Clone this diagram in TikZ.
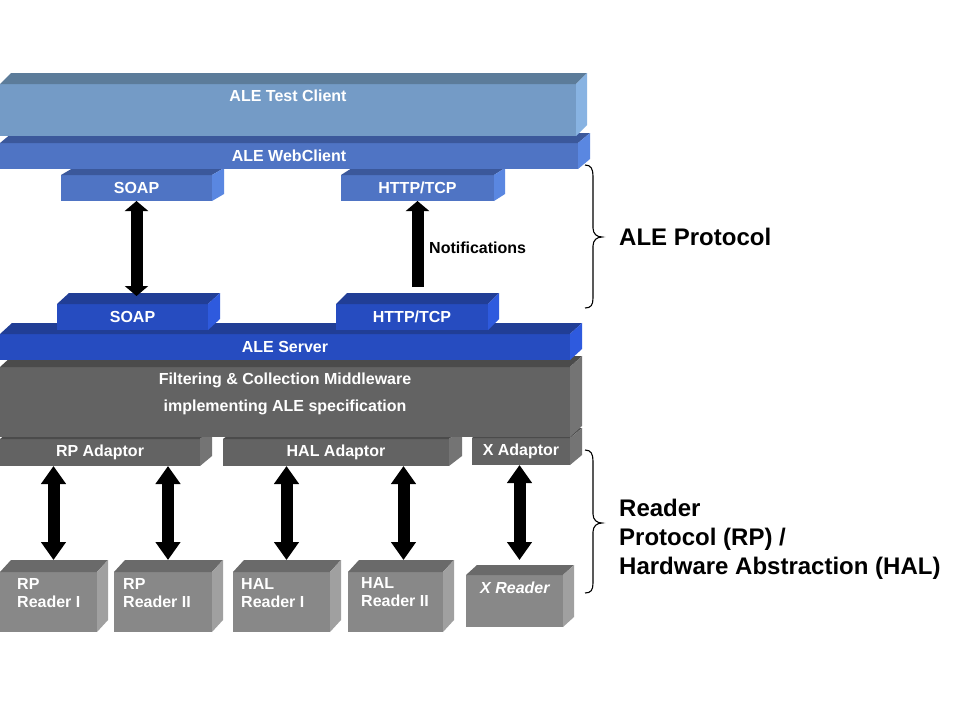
\documentclass[tikz,border=0pt]{standalone}
\usepackage{fontspec}
\setmainfont{Liberation Sans}
\usetikzlibrary{calc,arrows.meta}
\definecolor{tcF}{RGB}{116,155,198}
\definecolor{tcT}{RGB}{92,124,154}
\definecolor{tcS}{RGB}{136,179,226}
\definecolor{wbF}{RGB}{79,116,196}
\definecolor{wbT}{RGB}{59,88,155}
\definecolor{wbS}{RGB}{90,135,225}
\definecolor{svF}{RGB}{38,76,192}
\definecolor{svT}{RGB}{33,62,150}
\definecolor{svS}{RGB}{46,90,222}
\definecolor{gmF}{RGB}{99,99,99}
\definecolor{gmT}{RGB}{75,75,75}
\definecolor{gmS}{RGB}{116,116,116}
\definecolor{rdF}{RGB}{136,136,136}
\definecolor{rdT}{RGB}{106,106,106}
\definecolor{rdS}{RGB}{160,160,160}
\newcommand\lblfont{\fontsize{16}{18}\selectfont\bfseries}
\newcommand\tdbox[9]{%
  \node[face, fill=#1F, minimum width={(#5)-(#3)}, minimum height={(#6)-(#4)}] (#2) at ({((#3)+(#5))/2},{((#4)+(#6))/2}) {#9};
  \fill[#1T] (#2.north west) -- ++(#7,-#8) -- ($(#2.north east)+(#7,-#8)$) -- (#2.north east) -- cycle;
  \fill[#1S] (#2.north east) -- ++(#7,-#8) -- ($(#2.south east)+(#7,-#8)$) -- (#2.south east) -- cycle;
}
\begin{document}
\begin{tikzpicture}[x=1pt,y=-1pt,
  face/.style={inner sep=0pt, outer sep=0pt, text=white, font=\lblfont},
  lbl/.style={inner sep=0pt, text=white, font=\lblfont},
  rdlbl/.style={inner sep=0pt, text=white, font=\lblfont, align=left, anchor=north west},
  dbl/.style={line width=12pt, {Triangle[width=24pt,length=18pt]}-{Triangle[width=24pt,length=18pt]}},
  dblsm/.style={line width=12pt, {Triangle[width=23pt,length=10pt]}-{Triangle[width=23pt,length=10pt]}},
  uparrow/.style={line width=12pt, -{Triangle[width=23pt,length=10pt]}},
  bracepath/.style={line width=1.1pt, black},
  biglbl/.style={inner sep=0pt, font=\fontsize{24}{29}\selectfont\bfseries, align=left}]
\useasboundingbox[fill=white] (0,0) rectangle (960,720);

% readers
\tdbox{rd}{rp1}{0}{572}{97}{632}{11}{12}{}
\tdbox{rd}{rp2}{114}{572}{212}{632}{11}{12}{}
\tdbox{rd}{hal1}{233}{572}{330}{632}{11}{12}{}
\tdbox{rd}{hal2}{348}{572}{443}{632}{11}{12}{}
\tdbox{rd}{xr}{466}{575}{563}{627}{11}{10}{}
\node[rdlbl] (rp1t) at ($(rp1.north west)+(17,6.5)$) {RP\\Reader I};
\node[rdlbl] (rp2t) at ($(rp2.north west)+(9,6.5)$) {RP\\Reader II};
\node[rdlbl] (hal1t) at ($(hal1.north west)+(8,6.5)$) {HAL\\Reader I};
\node[rdlbl] (hal2t) at ($(hal2.north west)+(13,5.5)$) {HAL\\Reader II};
\node[rdlbl] (xrt) at ($(xr.north west)+(14,7)$) {\itshape X Reader};

% adaptors
\tdbox{gm}{rpad}{0}{439}{200}{466}{12}{10}{RP Adaptor}
\tdbox{gm}{halad}{223}{439}{449}{466}{13}{10}{HAL Adaptor}
\tdbox{gm}{xad}{472}{438}{570}{465}{12}{10}{X Adaptor}

% middleware
\tdbox{gm}{mw}{0}{367}{570}{437}{12}{11}{}
\node[lbl, align=center, font=\fontsize{16}{27}\selectfont\bfseries] (mwt) at (285,393.5) {Filtering \& Collection Middleware\\implementing ALE specification};

% server
\tdbox{sv}{srv}{0}{334}{570}{360}{12}{11}{ALE Server}
\tdbox{sv}{soapM}{57}{304}{208}{330}{12}{11}{SOAP}
\tdbox{sv}{httpM}{336}{304}{488}{330}{11}{11}{HTTP/TCP}

% client side
\tdbox{wb}{soapU}{61}{175}{212}{201}{12}{7}{SOAP}
\tdbox{wb}{httpU}{341}{175}{494}{201}{11}{7}{HTTP/TCP}
\tdbox{wb}{web}{0}{143}{578}{169}{12}{10}{ALE WebClient}
\tdbox{tc}{test}{0}{84}{576}{136}{11}{11}{}
\node[lbl] (testt) at (288,96) {ALE Test Client};

% upper arrows
\coordinate (sm) at ($(soapM.north)+(5,-8)$);
\draw[dblsm] (soapU.south) -- (soapU.south |- sm);
\coordinate (ntail) at ($(httpM.north)+(0,-17)$);
\draw[uparrow] (httpU.south |- ntail) -- (httpU.south);
\node[inner sep=0pt, anchor=west, font=\lblfont] (notif) at (429,248) {Notifications};

% lower arrows
\coordinate (a1) at ($(rp1.north)+(5,-12)$);
\coordinate (a2) at ($(rp2.north)+(5,-12)$);
\coordinate (a3) at ($(hal1.north)+(5,-12)$);
\coordinate (a4) at ($(hal2.north)+(8,-12)$);
\coordinate (a5) at ($(xr.north)+(5,-15)$);
\draw[dbl] (rpad.south -| a1) -- (a1);
\draw[dbl] (rpad.south -| a2) -- (a2);
\draw[dbl] (halad.south -| a3) -- (a3);
\draw[dbl] (halad.south -| a4) -- (a4);
\draw[dbl] (xad.south -| a5) -- (a5);

% braces
\coordinate (b1t) at (585,165);
\coordinate (b1m) at (602,237);
\coordinate (b1b) at (585,308);
\draw[bracepath] (b1t) .. controls (591,165) and (593,169) .. (593,176) -- (593,228) .. controls (593,234) and (597,237) .. (b1m) .. controls (597,237) and (593,240) .. (593,246) -- (593,298) .. controls (593,305) and (591,308) .. (b1b);
\coordinate (b2t) at (585,450);
\coordinate (b2m) at (602,523);
\coordinate (b2b) at (585,593);
\draw[bracepath] (b2t) .. controls (591,450) and (593,454) .. (593,461) -- (593,514) .. controls (593,520) and (597,523) .. (b2m) .. controls (597,523) and (593,526) .. (593,532) -- (593,583) .. controls (593,590) and (591,593) .. (b2b);

\node[biglbl, anchor=west] (alep) at (619,237) {ALE Protocol};
\node[biglbl, anchor=north west] (rpl) at (619,499) {Reader\\Protocol (RP) /\\Hardware Abstraction (HAL)};
\end{tikzpicture}
\end{document}
